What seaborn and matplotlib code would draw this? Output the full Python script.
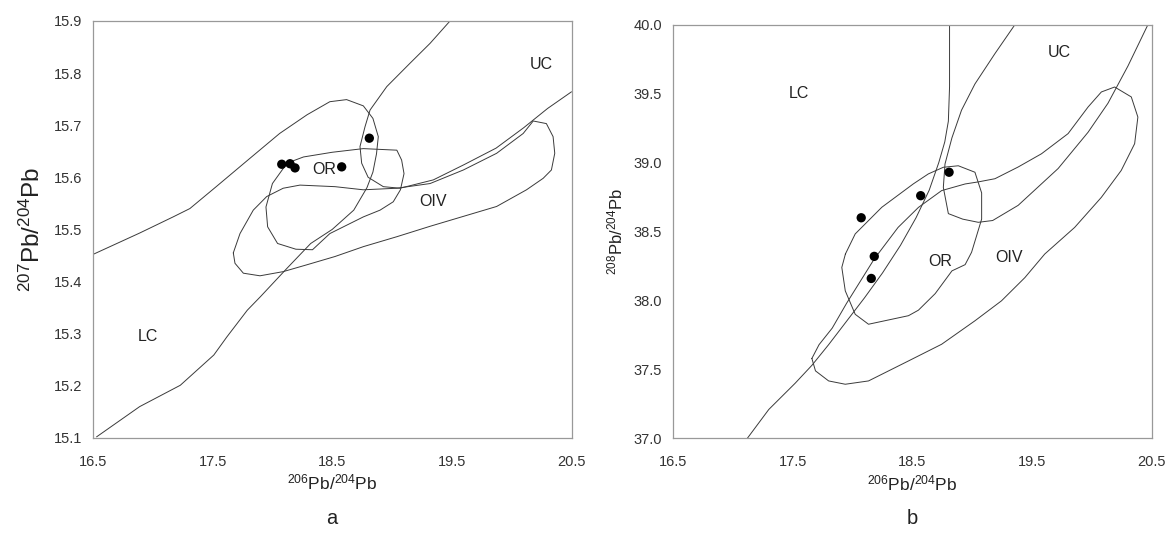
import matplotlib
matplotlib.use('Agg')
import matplotlib.pyplot as plt
import seaborn as sns
import pandas as pd

# ---- panel a : 207Pb/204Pb vs 206Pb/204Pb ----
a_lc_x = [16.50, 16.89, 17.17, 17.31, 17.53, 17.81, 18.06, 18.29, 18.48, 18.62, 18.76, 18.84, 18.885,
          18.87, 18.84, 18.79, 18.68, 18.50, 18.32, 18.12, 17.90, 17.79, 17.62, 17.51, 17.23, 16.89, 16.53]
a_lc_y = [15.452, 15.493, 15.524, 15.540, 15.582, 15.636, 15.684, 15.720, 15.745, 15.749, 15.737, 15.713, 15.678,
          15.645, 15.610, 15.580, 15.537, 15.500, 15.473, 15.425, 15.371, 15.345, 15.294, 15.259, 15.201, 15.160, 15.102]
a_uc_x = [19.485, 19.318, 19.151, 18.956, 18.816, 18.774, 18.732, 18.746, 18.80, 18.927, 19.066, 19.345,
          19.60, 19.87, 20.10, 20.30, 20.50]
a_uc_y = [15.900, 15.857, 15.819, 15.774, 15.729, 15.697, 15.659, 15.627, 15.600, 15.582, 15.579, 15.595,
          15.624, 15.656, 15.695, 15.732, 15.764]
a_or_x = [18.12, 18.26, 18.50, 18.76, 19.04, 19.08, 19.10, 19.07, 19.01, 18.90, 18.76, 18.62, 18.48,
          18.335, 18.196, 18.043, 17.96, 17.946, 18.00, 18.10, 18.12]
a_or_y = [15.627, 15.639, 15.648, 15.655, 15.652, 15.633, 15.607, 15.576, 15.553, 15.537, 15.524, 15.508, 15.492,
          15.461, 15.462, 15.473, 15.505, 15.543, 15.588, 15.620, 15.627]
a_oiv_x = [17.673, 17.687, 17.757, 17.896, 18.09, 18.286, 18.523, 18.761, 19.04, 19.318, 19.596, 19.874,
           20.124, 20.263, 20.332, 20.36, 20.346, 20.29, 20.18, 20.096, 19.874, 19.596, 19.318, 19.04,
           18.76, 18.523, 18.23, 18.09, 17.952, 17.84, 17.729, 17.673]
a_oiv_y = [15.455, 15.435, 15.416, 15.411, 15.419, 15.432, 15.448, 15.467, 15.486, 15.506, 15.525, 15.544,
           15.576, 15.598, 15.614, 15.646, 15.678, 15.703, 15.708, 15.684, 15.646, 15.614, 15.588, 15.579,
           15.576, 15.582, 15.585, 15.579, 15.563, 15.537, 15.492, 15.455]
a_pts_x = [18.078, 18.147, 18.189, 18.579, 18.810]
a_pts_y = [15.625, 15.626, 15.618, 15.620, 15.675]
a_labels = ['UC', 'LC', 'OR', 'OIV']
a_label_x = [20.25, 16.96, 18.43, 19.34]
a_label_y = [15.816, 15.295, 15.614, 15.553]

# ---- panel b : 208Pb/204Pb vs 206Pb/204Pb ----
b_lc_x = [17.12, 17.30, 17.52, 17.66, 17.80, 17.95, 18.10, 18.25, 18.40, 18.53, 18.64, 18.72, 18.77,
          18.80, 18.81, 18.81]
b_lc_y = [37.00, 37.21, 37.40, 37.53, 37.68, 37.85, 38.02, 38.20, 38.40, 38.60, 38.80, 39.00, 39.15,
          39.30, 39.55, 40.00]
b_uc_x = [19.356, 19.189, 19.022, 18.91, 18.83, 18.772, 18.758, 18.80, 18.92, 19.05, 19.17, 19.383,
          19.717, 19.967, 20.133, 20.30, 20.467]
b_uc_y = [40.00, 39.79, 39.57, 39.38, 39.18, 38.99, 38.82, 38.63, 38.59, 38.567, 38.58, 38.69,
          38.957, 39.22, 39.43, 39.70, 40.00]
b_or_x = [17.94, 18.022, 18.244, 18.508, 18.633, 18.758, 18.883, 19.022, 19.078, 19.078, 19.036, 18.994,
          18.94, 18.83, 18.69, 18.55, 18.467, 18.133, 18.022, 17.939, 17.91, 17.94]
b_or_y = [38.337, 38.483, 38.676, 38.846, 38.918, 38.966, 38.977, 38.93, 38.78, 38.59, 38.47, 38.35,
          38.26, 38.215, 38.05, 37.93, 37.89, 37.828, 37.90, 38.07, 38.24, 38.337]
b_oiv_x = [17.66, 17.72, 17.83, 17.95, 18.18, 18.38, 18.55, 18.744, 18.94, 19.05, 19.189, 19.383, 19.578,
           19.80, 19.967, 20.078, 20.189, 20.328, 20.383, 20.356, 20.244, 20.078, 19.855, 19.605, 19.439,
           19.244, 19.022, 18.744, 18.467, 18.133, 17.939, 17.80, 17.69, 17.66]
b_oiv_y = [37.58, 37.68, 37.80, 37.98, 38.30, 38.53, 38.675, 38.797, 38.845, 38.86, 38.883, 38.968, 39.064,
           39.21, 39.403, 39.512, 39.548, 39.476, 39.33, 39.137, 38.943, 38.748, 38.53, 38.337, 38.166,
           37.998, 37.853, 37.683, 37.562, 37.417, 37.393, 37.417, 37.49, 37.58]
b_pts_x = [18.072, 18.569, 18.806, 18.181, 18.156]
b_pts_y = [38.60, 38.76, 38.93, 38.32, 38.16]
b_labels = ['UC', 'LC', 'OR', 'OIV']
b_label_x = [19.73, 17.55, 18.73, 19.31]
b_label_y = [39.80, 39.50, 38.28, 38.31]

x_ticks = [16.5, 17.5, 18.5, 19.5, 20.5]
a_yticks = [15.1, 15.2, 15.3, 15.4, 15.5, 15.6, 15.7, 15.8, 15.9]
b_yticks = [37.0, 37.5, 38.0, 38.5, 39.0, 39.5, 40.0]

sns.set_style('white')
plt.rcParams['font.family'] = ['Liberation Sans', 'DejaVu Sans']
plt.rcParams['mathtext.default'] = 'regular'

fig = plt.figure(figsize=(11.68, 5.36), dpi=100)
ax1 = fig.add_axes([0.0796, 0.183, 0.4097, 0.778])
ax2 = fig.add_axes([0.5762, 0.182, 0.410, 0.772])

line_kw = dict(color='#3a3a3a', linewidth=0.7, sort=False, estimator=None, legend=False)


def draw_panel(ax, curves, px, py, labels, lx, ly, yticks, ylim, yfmt, ylabel, ysize, tag):
    for cx, cy in curves:
        d = pd.DataFrame({'x': cx, 'y': cy})
        sns.lineplot(data=d, x='x', y='y', ax=ax, **line_kw)
    sns.scatterplot(x=px, y=py, ax=ax, color='black', s=45, edgecolor='none', zorder=5)
    for t, x, y in zip(labels, lx, ly):
        ax.text(x, y, t, fontsize=11.5, ha='center', va='center', color='#222222')
    ax.set_xlim(16.5, 20.5)
    ax.set_ylim(*ylim)
    ax.set_xticks(x_ticks)
    ax.set_xticklabels([f'{v:.1f}' for v in x_ticks])
    ax.set_yticks(yticks)
    ax.set_yticklabels([yfmt.format(v) for v in yticks])
    ax.tick_params(direction='in', length=4, width=0.7, color='#888888', labelsize=10.5,
                   labelcolor='#333333', pad=12)
    ax.tick_params(axis='y', pad=8)
    for s in ax.spines.values():
        s.set_color('#999999')
        s.set_linewidth(0.9)
    ax.set_xlabel(r'$^{206}$Pb/$^{204}$Pb', fontsize=12.5, color='#222222', labelpad=3)
    ax.set_ylabel(ylabel, fontsize=ysize, color='#222222', labelpad=6)
    ax.text(0.5, -0.17, tag, transform=ax.transAxes, fontsize=14.5, ha='center', va='top', color='#222222')


draw_panel(ax1, [(a_lc_x, a_lc_y), (a_uc_x, a_uc_y), (a_or_x, a_or_y), (a_oiv_x, a_oiv_y)],
           a_pts_x, a_pts_y, a_labels, a_label_x, a_label_y, a_yticks, (15.1, 15.9), '{:.1f}',
           r'$^{207}$Pb/$^{204}$Pb', 17.5, 'a')
draw_panel(ax2, [(b_lc_x, b_lc_y), (b_uc_x, b_uc_y), (b_or_x, b_or_y), (b_oiv_x, b_oiv_y)],
           b_pts_x, b_pts_y, b_labels, b_label_x, b_label_y, b_yticks, (37.0, 40.0), '{:.1f}',
           r'$^{208}$Pb/$^{204}$Pb', 12, 'b')

fig.savefig('out.png', dpi=100, facecolor='white')
